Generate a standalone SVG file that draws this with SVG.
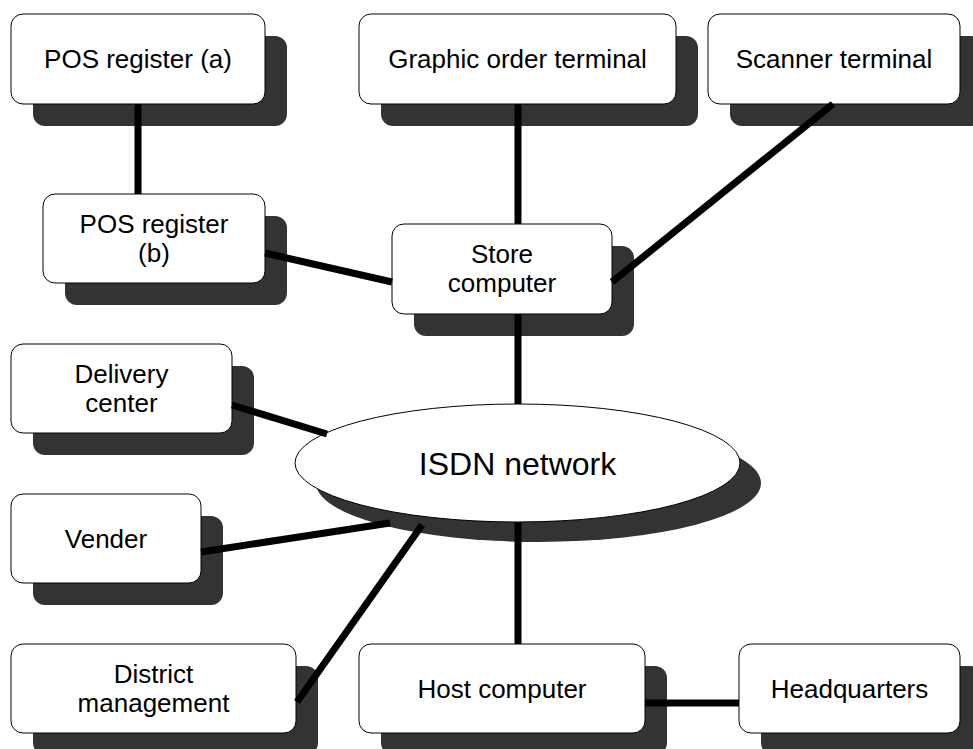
<svg xmlns="http://www.w3.org/2000/svg" width="973" height="749" viewBox="0 0 973 749">
<style>
.sh{fill:#333333;stroke:none}
.bx{fill:#ffffff;stroke:#000000;stroke-width:1}
.t{font-family:"Liberation Sans",Arial,sans-serif;font-size:26px;fill:#000000;text-anchor:middle}
.big{font-size:32px}
.ln{stroke:#000000;stroke-width:7;fill:none;stroke-linecap:butt}
</style>
<rect width="973" height="749" fill="#ffffff"/>
<g id="isdn">
<ellipse class="sh" cx="538.5" cy="483" rx="222.5" ry="59"/>
<ellipse class="bx" cx="517.5" cy="463" rx="222.5" ry="59"/>
<text class="t big" x="517.5" y="474.5">ISDN network</text>
</g>
<g id="pos-a">
<rect class="sh" x="33" y="36" width="254" height="90" rx="12"/>
<rect class="bx" x="11" y="14" width="254" height="90" rx="12"/>
<text class="t" x="138" y="68">POS register (a)</text>
</g>
<g id="graphic">
<rect class="sh" x="381" y="36" width="317" height="90" rx="12"/>
<rect class="bx" x="359" y="14" width="317" height="90" rx="12"/>
<text class="t" x="517.5" y="68">Graphic order terminal</text>
</g>
<g id="scanner">
<rect class="sh" x="730" y="36" width="252" height="90" rx="12"/>
<rect class="bx" x="708" y="14" width="252" height="90" rx="12"/>
<text class="t" x="834" y="68">Scanner terminal</text>
</g>
<g id="pos-b">
<rect class="sh" x="65" y="216" width="222" height="89" rx="12"/>
<rect class="bx" x="43" y="194" width="222" height="89" rx="12"/>
<text class="t" x="154" y="233">POS register</text>
<text class="t" x="154" y="262">(b)</text>
</g>
<g id="store">
<rect class="sh" x="414" y="246" width="220" height="90" rx="12"/>
<rect class="bx" x="392" y="224" width="220" height="90" rx="12"/>
<text class="t" x="502" y="263">Store</text>
<text class="t" x="502" y="292">computer</text>
</g>
<g id="delivery">
<rect class="sh" x="33" y="366" width="221" height="89" rx="12"/>
<rect class="bx" x="11" y="344" width="221" height="89" rx="12"/>
<text class="t" x="121.5" y="383">Delivery</text>
<text class="t" x="121.5" y="412">center</text>
</g>
<g id="vender">
<rect class="sh" x="33" y="516" width="190" height="89" rx="12"/>
<rect class="bx" x="11" y="494" width="190" height="89" rx="12"/>
<text class="t" x="106" y="547.5">Vender</text>
</g>
<g id="district">
<rect class="sh" x="33" y="666" width="285" height="89" rx="12"/>
<rect class="bx" x="11" y="644" width="285" height="89" rx="12"/>
<text class="t" x="153.5" y="683">District</text>
<text class="t" x="153.5" y="712">management</text>
</g>
<g id="host">
<rect class="sh" x="381" y="666" width="286" height="89" rx="12"/>
<rect class="bx" x="359" y="644" width="286" height="89" rx="12"/>
<text class="t" x="502" y="697.5">Host computer</text>
</g>
<g id="headquarters">
<rect class="sh" x="761" y="666" width="221" height="89" rx="12"/>
<rect class="bx" x="739" y="644" width="221" height="89" rx="12"/>
<text class="t" x="849.5" y="697.5">Headquarters</text>
</g>
<g id="connectors">
<line class="ln" x1="138" y1="104" x2="138" y2="194"/>
<line class="ln" x1="518" y1="104" x2="518" y2="224"/>
<line class="ln" x1="833" y1="104" x2="612" y2="282"/>
<line class="ln" x1="265" y1="253" x2="392" y2="282"/>
<line class="ln" x1="518" y1="314" x2="518" y2="404"/>
<line class="ln" x1="232" y1="405" x2="327" y2="434"/>
<line class="ln" x1="201" y1="552" x2="390" y2="523"/>
<line class="ln" x1="297" y1="702" x2="422" y2="525"/>
<line class="ln" x1="518" y1="522" x2="518" y2="644"/>
<line class="ln" x1="645" y1="703" x2="739" y2="703"/>
</g>
</svg>
